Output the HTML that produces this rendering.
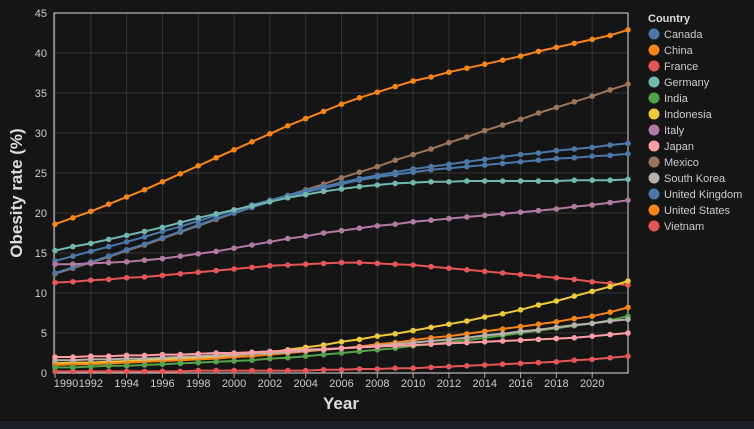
<!DOCTYPE html>
<html><head><meta charset="utf-8"><style>
html,body{margin:0;padding:0;background:#151515;}
svg{display:block;font-family:"Liberation Sans","DejaVu Sans",sans-serif;}
</style></head><body>
<svg id="chart" width="754" height="429">
<rect x="0" y="0" width="754" height="429" fill="#151515"/>
<rect x="0" y="421" width="754" height="8" fill="#1b1f26"/>
<g id="grid"></g><g id="axes"></g><g id="series"></g><g id="legend"></g>
<text x="22" y="193" transform="rotate(-90 22 193)" text-anchor="middle" fill="#ddd" font-size="17" font-weight="bold">Obesity rate (%)</text>
<text x="341" y="409" text-anchor="middle" fill="#ddd" font-size="17" font-weight="bold">Year</text>
</svg>
<script>
const years = Array.from({length:33},(_,i)=>1990+i);
const countries = ["Canada","China","France","Germany","India","Indonesia","Italy","Japan","Mexico","South Korea","United Kingdom","United States","Vietnam"];
const colors = ["#4c78a8","#f58518","#e45756","#72b7b2","#54a24b","#eeca3b","#b279a2","#ff9da6","#9d755d","#bab0ac","#4c78a8","#f58518","#e45756"];
const canada = [12.5,13.2,13.9,14.6,15.4,16.1,16.9,17.7,18.5,19.3,20.0,20.7,21.4,22.0,22.6,23.1,23.6,24.1,24.5,24.8,25.1,25.4,25.6,25.8,26.0,26.2,26.4,26.6,26.8,26.9,27.1,27.2,27.4];
const china = [1.0,1.1,1.1,1.2,1.3,1.4,1.5,1.6,1.7,1.8,2.0,2.1,2.3,2.5,2.7,2.9,3.1,3.3,3.6,3.8,4.1,4.4,4.6,4.9,5.2,5.5,5.8,6.1,6.4,6.8,7.1,7.6,8.2];
const france = [11.3,11.4,11.6,11.7,11.9,12.0,12.2,12.4,12.6,12.8,13.0,13.2,13.4,13.5,13.6,13.7,13.8,13.8,13.7,13.6,13.5,13.3,13.1,12.9,12.7,12.5,12.3,12.1,11.9,11.7,11.4,11.2,11.0];
const germany = [15.3,15.8,16.2,16.7,17.2,17.7,18.2,18.8,19.4,19.9,20.4,20.9,21.4,21.9,22.3,22.7,23.0,23.3,23.5,23.7,23.8,23.9,23.9,24.0,24.0,24.0,24.0,24.0,24.0,24.1,24.1,24.1,24.2];
const india = [0.7,0.7,0.8,0.9,0.9,1.0,1.1,1.2,1.3,1.4,1.5,1.6,1.8,1.9,2.1,2.3,2.5,2.7,2.9,3.1,3.4,3.6,3.9,4.1,4.4,4.7,5.0,5.3,5.6,5.9,6.2,6.6,7.1];
const indonesia = [1.2,1.3,1.3,1.4,1.5,1.6,1.7,1.8,1.9,2.0,2.2,2.4,2.6,2.9,3.2,3.5,3.9,4.2,4.6,4.9,5.3,5.7,6.1,6.5,7.0,7.4,7.9,8.5,9.0,9.6,10.2,10.8,11.5];
const italy = [13.6,13.6,13.7,13.8,13.9,14.1,14.3,14.6,14.9,15.2,15.6,16.0,16.4,16.8,17.1,17.5,17.8,18.1,18.4,18.6,18.9,19.1,19.3,19.5,19.7,19.9,20.1,20.3,20.5,20.8,21.0,21.3,21.6];
const japan = [2.0,2.0,2.1,2.1,2.2,2.2,2.3,2.3,2.4,2.5,2.5,2.6,2.7,2.8,2.9,3.0,3.1,3.2,3.3,3.4,3.5,3.6,3.7,3.8,3.9,4.0,4.1,4.2,4.3,4.4,4.6,4.8,5.0];
const mexico = [12.4,13.1,13.8,14.5,15.3,16.0,16.8,17.6,18.4,19.2,20.0,20.7,21.5,22.2,22.9,23.6,24.4,25.1,25.8,26.6,27.3,28.0,28.8,29.5,30.3,31.0,31.7,32.5,33.2,33.9,34.6,35.4,36.1];
const southKorea = [1.6,1.6,1.7,1.7,1.8,1.8,1.9,2.0,2.1,2.2,2.3,2.4,2.5,2.6,2.8,2.9,3.1,3.2,3.4,3.6,3.8,4.0,4.2,4.4,4.7,4.9,5.2,5.4,5.7,6.0,6.2,6.5,6.7];
const uk = [14.0,14.6,15.2,15.8,16.4,17.0,17.7,18.3,19.0,19.7,20.3,21.0,21.6,22.2,22.8,23.3,23.8,24.3,24.7,25.1,25.5,25.8,26.1,26.4,26.7,27.0,27.3,27.5,27.8,28.0,28.2,28.5,28.7];
const us = [18.6,19.4,20.2,21.1,22.0,22.9,23.9,24.9,25.9,26.9,27.9,28.9,29.9,30.9,31.8,32.7,33.6,34.4,35.1,35.8,36.5,37.0,37.6,38.1,38.6,39.1,39.6,40.2,40.7,41.2,41.7,42.2,42.9];
const vietnam = [0.2,0.2,0.2,0.2,0.2,0.2,0.2,0.2,0.3,0.3,0.3,0.3,0.3,0.3,0.3,0.4,0.4,0.5,0.5,0.6,0.6,0.7,0.8,0.9,1.0,1.1,1.2,1.3,1.4,1.6,1.7,1.9,2.1];
const seriesValues = [canada,china,france,germany,india,indonesia,italy,japan,mexico,southKorea,uk,us,vietnam];
const yTicks = [0,5,10,15,20,25,30,35,40,45];
const xTicks = [1990,1992,1994,1996,1998,2000,2002,2004,2006,2008,2010,2012,2014,2016,2018,2020];

const NS="http://www.w3.org/2000/svg";
const L=54,R=628,T=13,B=373;
const xs=y=>55+(y-1990)*(R-55)/32;
const ys=v=>B-(v/45)*(B-T);
function mk(tag,attrs,parent){const e=document.createElementNS(NS,tag);for(const k in attrs)e.setAttribute(k,attrs[k]);parent.appendChild(e);return e;}
const grid=document.getElementById('grid'),axes=document.getElementById('axes'),ser=document.getElementById('series'),leg=document.getElementById('legend');
yTicks.forEach(v=>{
  const g=mk('line',{x1:L,x2:R,y1:ys(v),y2:ys(v),stroke:'#333','stroke-width':1},grid);
  
  
  const t=mk('text',{x:47,y:ys(v)+4,'text-anchor':'end',fill:'#ccc','font-size':11},axes);
  t.textContent=v;
  
  
});
xTicks.forEach((yr,i)=>{
  const g=mk('line',{x1:xs(yr),x2:xs(yr),y1:T,y2:B,stroke:'#333','stroke-width':1},grid);
  
  
  mk('line',{x1:xs(yr),x2:xs(yr),y1:B,y2:B+5,stroke:'#aaa'},axes);
  const t=mk('text',{x:i===0?xs(yr)+11:xs(yr),y:B+14,'text-anchor':'middle',fill:'#ccc','font-size':11},axes);
  t.textContent=yr;
  
  
});
const fr=mk('rect',{x:L,y:T,width:R-L,height:B-T,fill:'none',stroke:'#ddd','stroke-width':1},axes);


const order=[12,2,8,10,0,3,6,5,1,4,9,7,11];
order.forEach(ci=>{
  const vals=seriesValues[ci];
  const g=mk('g',{},ser);
  
  
  mk('path',{d:vals.map((v,i)=>(i?'L':'M')+xs(years[i]).toFixed(1)+','+ys(v).toFixed(1)).join(''),fill:'none',stroke:colors[ci],'stroke-width':2},g);
  vals.forEach((v,i)=>{
    const c=mk('circle',{cx:xs(years[i]),cy:ys(v),r:2.8,fill:colors[ci]},g);
    
    
  });
});
const lt=mk('text',{x:648,y:22,fill:'#ddd','font-size':11,'font-weight':'bold'},leg);
lt.textContent='Country';


countries.forEach((c,i)=>{
  const g=mk('g',{},leg);
  
  
  mk('circle',{cx:654,cy:34+i*16,r:5.5,fill:colors[i]},g);
  const t=mk('text',{x:664,y:38+i*16,fill:'#ccc','font-size':11},g);
  t.textContent=c;
});
</script>
</body></html>
